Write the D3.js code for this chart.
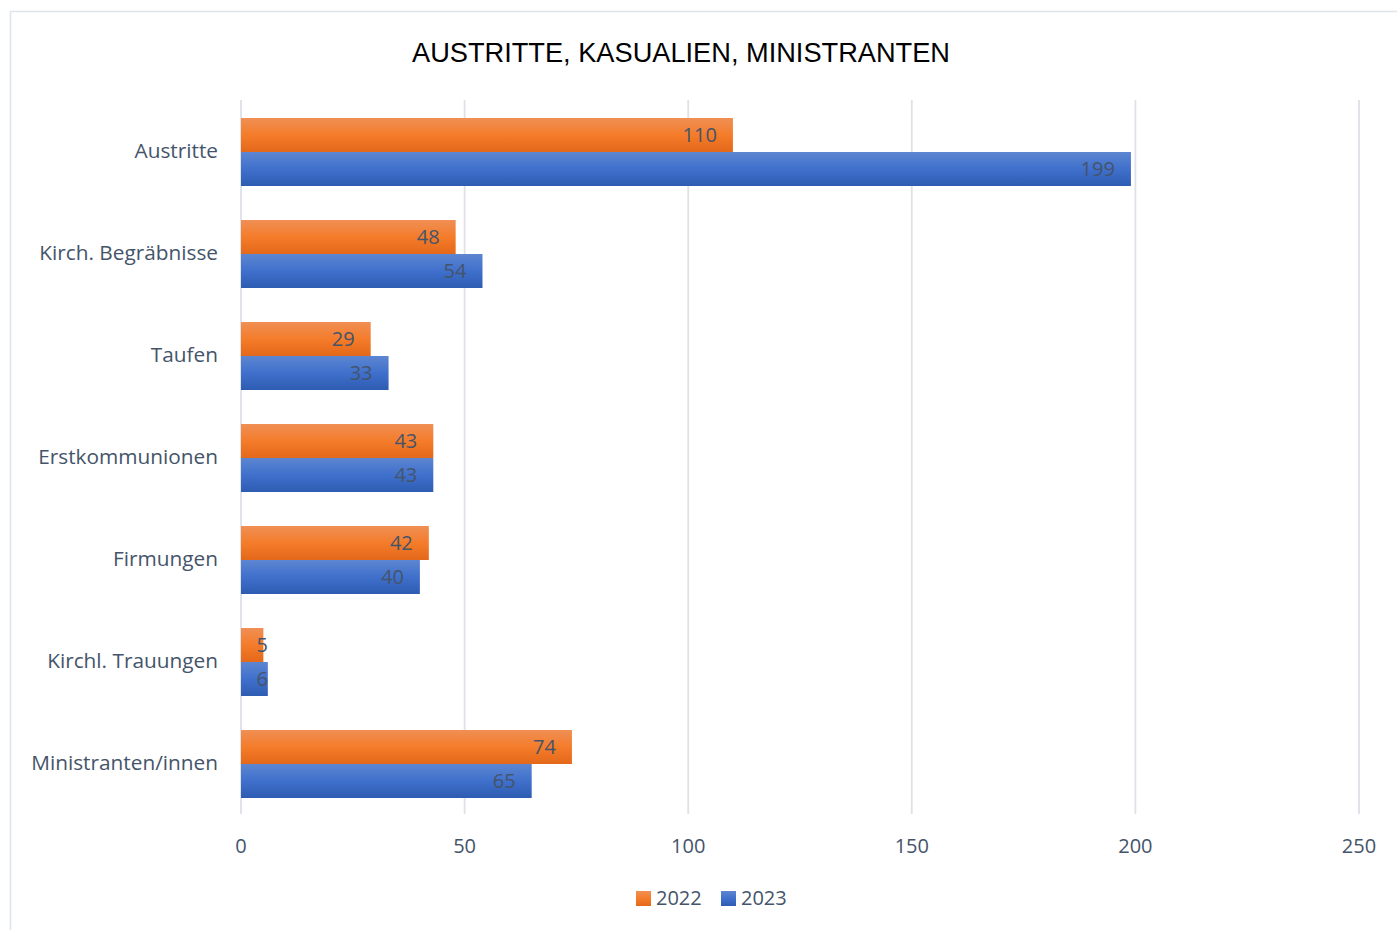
<!DOCTYPE html>
<html>
<head>
<meta charset="utf-8">
<script src="https://cdn.jsdelivr.net/npm/d3@7"></script>
<style>
  body { margin: 0; background: #fff; }
  svg { display: block; }
</style>
</head>
<body>
<svg width="1397" height="930"></svg>
<script>
var categories = ["Austritte", "Kirch. Begräbnisse", "Taufen", "Erstkommunionen", "Firmungen", "Kirchl. Trauungen", "Ministranten/innen"];
var values2022 = [110, 48, 29, 43, 42, 5, 74];
var values2023 = [199, 54, 33, 43, 40, 6, 65];
var seriesNames = ["2022", "2023"];
var xTicks = [0, 50, 100, 150, 200, 250];

var svg = d3.select("svg");
var textColor = "#44546a";
var labelFont = "'Open Sans', Lato, sans-serif";

var defs = svg.append("defs");
function grad(id, stops) {
  var g = defs.append("linearGradient").attr("id", id)
    .attr("x1", 0).attr("y1", 0).attr("x2", 0).attr("y2", 1);
  stops.forEach(function(s) {
    g.append("stop").attr("offset", s[0]).attr("stop-color", s[1]);
  });
}
grad("gOrange", [[0, "#f08f55"], [0.5, "#f47c2a"], [1, "#e4681a"]]);
grad("gBlue", [[0, "#5d86d1"], [0.5, "#3f70cc"], [1, "#2e5cb2"]]);
var fills = ["url(#gOrange)", "url(#gBlue)"];

// chart border
svg.append("rect")
  .attr("x", 10.5).attr("y", 11.5)
  .attr("width", 1420).attr("height", 940)
  .attr("fill", "none")
  .attr("stroke", "#dfe3ea")
  .attr("stroke-width", 1.5);

svg.append("text")
  .attr("x", 681).attr("y", 62)
  .attr("text-anchor", "middle")
  .attr("font-family", "'Liberation Sans Narrow', 'Liberation Sans', Arial, sans-serif")
  .attr("font-size", 27)
  .attr("fill", "#000")
  .attr("textLength", 538)
  .attr("lengthAdjust", "spacingAndGlyphs")
  .text("AUSTRITTE, KASUALIEN, MINISTRANTEN");

var x = d3.scaleLinear().domain([0, 250]).range([241, 1359]);
var y = d3.scaleBand().domain(categories).range([101, 815])
  .paddingInner(1 / 3).paddingOuter(1 / 6);
var ySub = d3.scaleBand().domain(seriesNames).range([0, y.bandwidth()]);

// gridlines
svg.append("g").selectAll("line")
  .data(xTicks)
  .enter().append("line")
  .attr("x1", function(d) { return x(d); })
  .attr("x2", function(d) { return x(d); })
  .attr("y1", 100).attr("y2", 814)
  .attr("stroke", "#dde1e8")
  .attr("stroke-width", 1.8);

// x tick labels
svg.append("g").selectAll("text")
  .data(xTicks)
  .enter().append("text")
  .attr("x", function(d) { return x(d); })
  .attr("y", 853)
  .attr("text-anchor", "middle")
  .attr("font-family", labelFont)
  .attr("font-size", 20)
  .attr("fill", textColor)
  .text(function(d) { return d; });

// category labels
svg.append("g").selectAll("text")
  .data(categories)
  .enter().append("text")
  .attr("x", 218)
  .attr("y", function(d) { return y(d) + y.bandwidth() / 2 + 6; })
  .attr("text-anchor", "end")
  .attr("font-family", labelFont)
  .attr("font-size", 20.8)
  .attr("fill", textColor)
  .text(function(d) { return d; });

var rows = [];
categories.forEach(function(c, i) {
  rows.push({ cat: c, s: 0, v: values2022[i] });
  rows.push({ cat: c, s: 1, v: values2023[i] });
});

var bars = svg.append("g").selectAll("g")
  .data(rows)
  .enter().append("g");

bars.append("rect")
  .attr("x", x(0))
  .attr("y", function(d) { return y(d.cat) + ySub(seriesNames[d.s]); })
  .attr("width", function(d) { return x(d.v) - x(0); })
  .attr("height", ySub.bandwidth())
  .attr("fill", function(d) { return fills[d.s]; });

bars.append("text")
  .attr("x", function(d) { return Math.max(x(d.v) - 16, x(0) + 27); })
  .attr("y", function(d) { return y(d.cat) + ySub(seriesNames[d.s]) + ySub.bandwidth() / 2 + 7; })
  .attr("text-anchor", "end")
  .attr("font-family", labelFont)
  .attr("font-size", 20)
  .attr("fill", textColor)
  .text(function(d) { return d.v; });

// legend
var legend = svg.append("g").selectAll("g")
  .data(seriesNames)
  .enter().append("g")
  .attr("transform", function(d, i) { return "translate(" + (636 + i * 85) + ",891)"; });
legend.append("rect")
  .attr("width", 15).attr("height", 15)
  .attr("fill", function(d, i) { return fills[i]; });
legend.append("text")
  .attr("x", 20).attr("y", 14)
  .attr("font-family", labelFont)
  .attr("font-size", 20)
  .attr("fill", textColor)
  .text(function(d) { return d; });
</script>
</body>
</html>
